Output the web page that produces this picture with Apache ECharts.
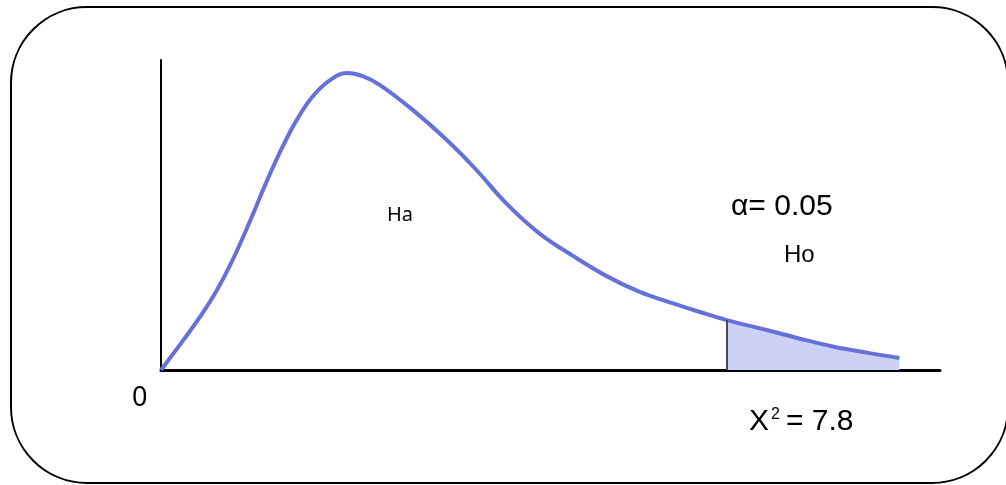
<!DOCTYPE html>
<html>
<head>
<meta charset="utf-8">
<script src="https://cdn.jsdelivr.net/npm/echarts@6/dist/echarts.min.js"></script>
<style>
  html, body {margin: 0; padding: 0; background: #fff;}
  #main {width: 1006px; height: 485px;}
</style>
</head>
<body>
<div id="main"></div>
<script>
// curve (x in chi-square units, y relative height)
const curveX = [0, 0.30, 0.54, 0.77, 0.99, 1.23, 1.46, 1.68, 1.87, 2.09, 2.33, 2.56, 2.78, 3.02, 3.47, 3.94, 4.33, 4.77, 5.22, 5.68, 6.15, 6.60, 7.06, 7.43, 7.80, 8.35, 8.81, 9.26, 9.73, 10.18];
const curveY = [0, 0.094, 0.172, 0.257, 0.356, 0.482, 0.610, 0.722, 0.806, 0.882, 0.935, 0.958, 0.948, 0.919, 0.839, 0.742, 0.650, 0.535, 0.440, 0.368, 0.302, 0.252, 0.215, 0.187, 0.161, 0.129, 0.101, 0.076, 0.056, 0.039];
const critical = 7.8;
const xMax = 10.74;

const curve = curveX.map((x, i) => [x, curveY[i]]);
const tail = curve.filter(p => p[0] >= critical);

const myChart = echarts.init(document.getElementById('main'));

const option = {
  animation: false,
  grid: {left: 161, right: 66, top: 60, bottom: 115},
  xAxis: {
    type: 'value', min: 0, max: xMax,
    axisLine: {show: true, onZero: false, lineStyle: {color: '#000', width: 3}},
    axisTick: {show: false}, axisLabel: {show: false}, splitLine: {show: false}
  },
  yAxis: {
    type: 'value', min: 0, max: 1,
    axisLine: {show: true, lineStyle: {color: '#000', width: 2}},
    axisTick: {show: false}, axisLabel: {show: false}, splitLine: {show: false}
  },
  series: [
    {
      // shaded rejection region
      type: 'line',
      data: tail,
      smooth: 0.4,
      symbol: 'none',
      lineStyle: {width: 0},
      areaStyle: {color: '#cdd2f5', opacity: 1},
      markLine: {
        symbol: 'none',
        silent: true,
        label: {show: false},
        lineStyle: {color: '#4a4a55', width: 2, type: 'solid'},
        data: [[{coord: [tail[0][0], 0]}, {coord: tail[0]}]]
      },
      z: 1
    },
    {
      type: 'line',
      data: curve,
      smooth: 0.4,
      symbol: 'none',
      lineStyle: {color: '#6670d9', width: 4},
      z: 3
    }
  ],
  graphic: [
    {
      type: 'rect', silent: true, z: -1,
      shape: {x: 11, y: 7, width: 997, height: 476, r: 76},
      style: {fill: 'none', stroke: '#000', lineWidth: 2}
    },
    {type: 'text', x: 400, y: 215, style: {text: 'Ha', fontSize: 20, fontFamily: 'Noto Sans', fill: '#000', textAlign: 'center', textVerticalAlign: 'middle'}},
    {type: 'text', x: 731, y: 207, style: {text: 'α= 0.05', fontSize: 30, fontFamily: 'Liberation Sans', fill: '#000', textAlign: 'left', textVerticalAlign: 'middle'}},
    {type: 'text', x: 784, y: 255, style: {text: 'Ho', fontSize: 24, fontFamily: 'Liberation Sans', fill: '#000', textAlign: 'left', textVerticalAlign: 'middle'}},
    {type: 'text', x: 132, y: 398, style: {text: '0', fontSize: 27, fontFamily: 'Noto Sans', fill: '#000', textAlign: 'left', textVerticalAlign: 'middle'}},
    {type: 'text', x: 749, y: 422, style: {text: 'X', fontSize: 30, fontFamily: 'Liberation Sans', fill: '#000', textAlign: 'left', textVerticalAlign: 'middle'}},
    {type: 'text', x: 771, y: 407, style: {text: '2', fontSize: 16, fontFamily: 'Liberation Sans', fill: '#000', textAlign: 'left', textVerticalAlign: 'top'}},
    {type: 'text', x: 786, y: 422, style: {text: '= 7.8', fontSize: 30, fontFamily: 'Liberation Sans', fill: '#000', textAlign: 'left', textVerticalAlign: 'middle'}}
  ]
};

myChart.setOption(option);
</script>
</body>
</html>
